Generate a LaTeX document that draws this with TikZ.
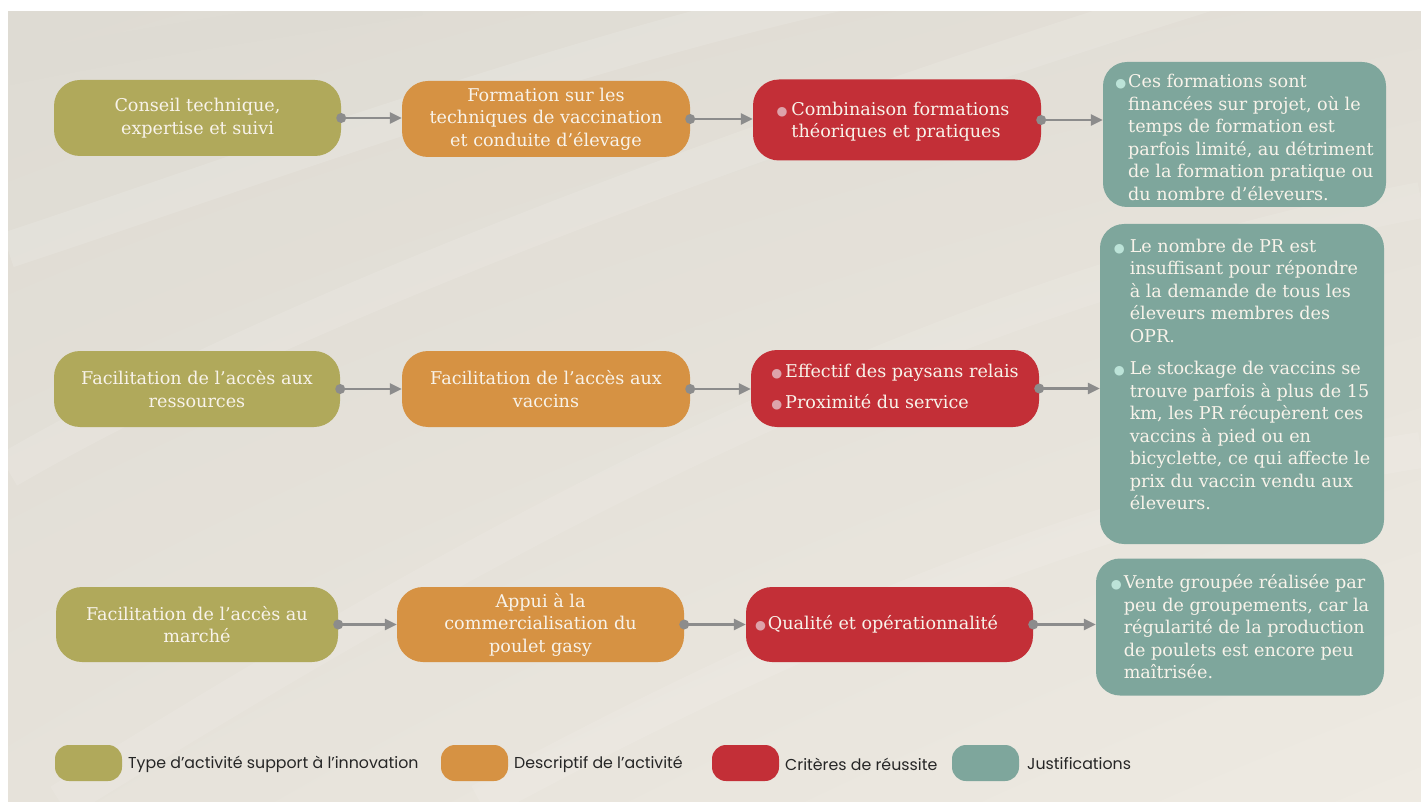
\documentclass[tikz,border=0pt]{standalone}
\usepackage{fontspec}
\setmainfont{DejaVu Serif}
\newfontfamily\legfont{Poppins}
\newfontfamily\symfont{DejaVu Sans}
\usetikzlibrary{arrows.meta,calc,shadings}
\definecolor{cOlive}{HTML}{B0A95B}
\definecolor{cOrange}{HTML}{D69243}
\definecolor{cRed}{HTML}{C32F37}
\definecolor{cTeal}{HTML}{7EA69C}
\definecolor{cText}{HTML}{F8F3EA}
\definecolor{cRB}{HTML}{DDA3AA}
\definecolor{cTB}{HTML}{BCE3D8}
\definecolor{cGray}{HTML}{8C8C8C}
\definecolor{bgA}{HTML}{DEDBD3}
\definecolor{bgB}{HTML}{E3DFD7}
\definecolor{bgC}{HTML}{E6E2DA}
\definecolor{bgD}{HTML}{EEEAE2}
\newcommand\bl[1]{{\symfont\fontsize{12.5}{12.5}\selectfont\textcolor{#1}{●}}}
\newcommand\lowerby[2]{\raisebox{-#1}[\height][\depth]{#2}}
\tikzset{
  box/.style={rounded corners=26pt, inner sep=0pt, text=cText, align=center,
    font=\fontsize{17.6}{22.5}\selectfont},
  jbox/.style={box, rounded corners=24pt, fill=cTeal, align=left},
  conn/.style={draw=cGray, line width=2.5pt, -{Triangle[length=12pt,width=11pt]}},
  dotc/.style={fill=cGray},
  swatch/.style={rounded corners=14pt, minimum width=67pt, minimum height=36pt, inner sep=0pt},
  legtext/.style={anchor=west, inner sep=0pt, font=\legfont\fontsize{15.8}{17}\selectfont, text=black!85},
  swirl/.style={white, opacity=0.12, line width=36pt}
}
\begin{document}
\begin{tikzpicture}[x=1pt,y=-1pt]
\useasboundingbox (0,0) rectangle (1421,802);
\fill[white] (0,0) rectangle (1421,802);
\shade[upper left=bgA, upper right=bgB, lower left=bgC, lower right=bgD] (8,12) rectangle (1421,802);
\begin{scope}
\clip (8,12) rectangle (1421,802);
\draw[swirl] (8,250) .. controls (250,170) and (600,40) .. (900,-20);
\draw[swirl] (8,470) .. controls (300,300) and (800,120) .. (1250,-20);
\draw[swirl, opacity=0.1] (60,802) .. controls (450,560) and (900,300) .. (1421,200);
\draw[swirl, opacity=0.1] (480,802) .. controls (780,640) and (1100,500) .. (1421,450);
\draw[bgA, opacity=0.5, line width=30pt] (8,70) .. controls (150,40) and (300,20) .. (420,0);
\end{scope}

% Row 1
\node[box, fill=cOlive, minimum width=287pt, minimum height=76pt] (o1) at (197.5,118) {Conseil technique,\\expertise et suivi};
\node[box, fill=cOrange, minimum width=288pt, minimum height=76pt] (d1) at (546,119) {Formation sur les\\techniques de vaccination\\et conduite d’élevage};
\node[box, fill=cRed, minimum width=288pt, minimum height=81pt] (c1) at (897,120) {\lowerby{2pt}{\begin{tabular}{@{}l@{\hspace{4pt}}l@{}}\bl{cRB}&Combinaison formations\\ &théoriques et pratiques\end{tabular}}\hspace{8pt}};
\node[jbox, minimum width=283pt, minimum height=145pt] (j1) at (1244.5,134.5) {\lowerby{5pt}{\begin{tabular}{@{}l@{\hspace{2pt}}l@{}}\bl{cTB}&Ces formations sont\\ &financées sur projet, où le\\ &temps de formation est\\ &parfois limité, au détriment\\ &de la formation pratique ou\\ &du nombre d’éleveurs.\end{tabular}}};

% Row 2
\node[box, fill=cOlive, minimum width=286pt, minimum height=76pt] (o2) at (197,389) {Facilitation de l’accès aux\\ressources};
\node[box, fill=cOrange, minimum width=288pt, minimum height=76pt] (d2) at (546,389) {Facilitation de l’accès aux\\vaccins};
\node[box, fill=cRed, minimum width=288pt, minimum height=77pt] (c2) at (895,388.5) {\begin{tabular}{@{}l@{\hspace{3pt}}l@{}}\bl{cRB}&Effectif des paysans relais\\[8.5pt]\bl{cRB}&Proximité du service\end{tabular}};
\node[jbox, minimum width=284pt, minimum height=320pt] (j2) at (1242,384) {\begin{tabular}{@{}l@{\hspace{5pt}}l@{}}\bl{cTB}&Le nombre de PR est\\ &insuffisant pour répondre\\ &à la demande de tous les\\ &éleveurs membres des\\ &OPR.\\[10pt]\bl{cTB}&Le stockage de vaccins se\\ &trouve parfois à plus de 15\\ &km, les PR récupèrent ces\\ &vaccins à pied ou en\\ &bicyclette, ce qui affecte le\\ &prix du vaccin vendu aux\\ &éleveurs.\end{tabular}\\[14pt]};

% Row 3
\node[box, fill=cOlive, minimum width=282pt, minimum height=75pt] (o3) at (197,624.5) {Facilitation de l’accès au\\marché};
\node[box, fill=cOrange, minimum width=287pt, minimum height=75pt] (d3) at (540.5,624.5) {Appui à la\\commercialisation du\\poulet gasy};
\node[box, fill=cRed, minimum width=287pt, minimum height=75pt] (c3) at (889.5,624.5) {\begin{tabular}{@{}l@{\hspace{2pt}}l@{}}\bl{cRB}&Qualité et opérationnalité\end{tabular}\hspace{26pt}};
\node[jbox, minimum width=288pt, minimum height=137pt] (j3) at (1240,627) {\lowerby{2pt}{\begin{tabular}{@{}l@{\hspace{2pt}}l@{}}\bl{cTB}&Vente groupée réalisée par\\ &peu de groupements, car la\\ &régularité de la production\\ &de poulets est encore peu\\ &maîtrisée.\end{tabular}}};

% Connectors
\foreach \a/\b in {o1/d1, d1/c1, c1/j1, o2/d2, d2/c2, c2/j2, o3/d3, d3/c3, c3/j3} {
  \draw[conn] (\a.east) -- (\b.west |- \a.east);
  \fill[dotc] (\a.east) circle (5pt);
}

% Legend
\node[swatch, fill=cOlive] (l1) at (88.5,763) {};
\node[legtext] (lt1) at (128,764) {Type d’activité support à l’innovation};
\node[swatch, fill=cOrange] (l2) at (474.5,763) {};
\node[legtext] (lt2) at (514,764) {Descriptif de l’activité};
\node[swatch, fill=cRed] (l3) at (745.5,763) {};
\node[legtext] (lt3) at (785,764) {Critères de réussite};
\node[swatch, fill=cTeal] (l4) at (985.5,763) {};
\node[legtext] (lt4) at (1027,764) {Justifications};
\end{tikzpicture}
\end{document}
